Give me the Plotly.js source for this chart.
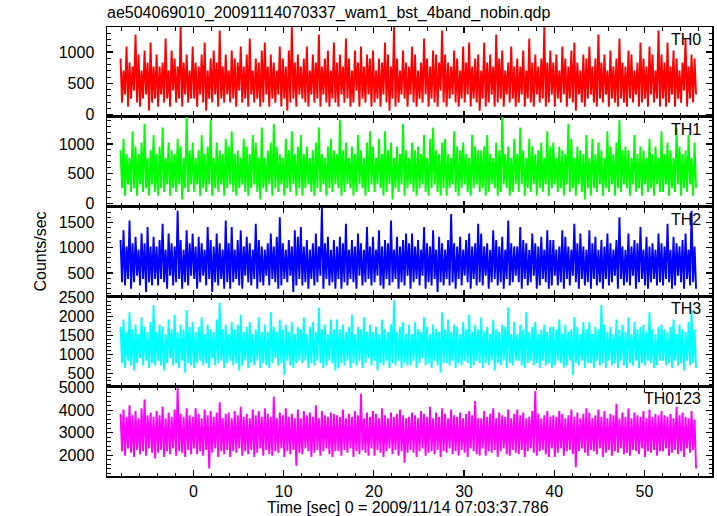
<!DOCTYPE html>
<html>
<head>
<meta charset="utf-8">
<script src="https://cdn.plot.ly/plotly-3.0.1.min.js"></script>
<style>html,body{margin:0;padding:0;background:#fff;}#chart{width:717px;height:516px;}</style>
</head>
<body>
<div id="chart"></div>
<script>
// Light curves: counts per time bin (bin width 1/64 s), sampled across the observation
const BIN_WIDTH = 1 / 64;           // seconds per bin
const T_START = -8.1;               // seconds (relative to 2009/11/14 07:03:37.786)
const T_SPAN = 64.0;                // seconds

const bandNames = ["TH0", "TH1", "TH2", "TH3", "TH0123"];
const bandColors = ["#ff0000", "#00ff00", "#0000ff", "#00ffff", "#ff00ff"];

const th0Counts = [
14,3,11,5,17,2,13,4,12,6,20,3,15,2,11,4,16,5,13,1,18,3,12,4,
15,2,12,5,13,3,19,4,11,2,16,6,14,3,12,4,22,2,13,5,15,3,11,4,
17,4,13,2,12,5,15,3,18,1,11,4,14,3,16,5,13,2,21,4,12,3,15,5,
11,3,16,4,14,2,13,6,17,3,12,4,15,2,19,5,11,3,14,4,13,2,16,3,
18,5,12,2,15,4,13,3,11,5,17,2,14,4,12,1,16,3,22,4,13,2,15,5,
12,4,14,3,17,2,11,5,15,3,13,4,20,2,12,5,14,3,16,2,11,4,18,3,
13,2,15,5,12,3,19,4,14,2,11,3,16,6,13,2,17,4,12,3,15,5,14,2,
16,3,11,4,14,2,13,5,18,3,15,1,12,4,22,2,14,3,11,5,16,4,13,2,
12,5,17,3,15,2,11,4,13,3,19,5,14,2,12,4,16,3,15,2,13,6,21,3,
15,2,13,4,12,5,16,3,14,2,11,4,17,3,13,5,18,2,12,4,14,3,15,1,
11,4,18,2,13,3,15,5,12,2,20,3,14,4,16,2,11,5,13,3,17,4,12,2,
14,3,12,5,16,2,11,4,19,3,13,2,15,5,12,3,14,4,22,2,13,3,16,5,
13,2,15,4,11,3,17,5,14,2,12,4,16,3,18,1,13,5,11,3,15,2,14,4,
17,5,12,3,14,2,20,4,13,3,15,5,11,2,16,4,12,3,14,2,19,4,13,3,
12,2,16,4,15,3,11,5,13,2,18,3,14,4,12,2,17,5,15,3,11,4,21,2,
15,4,13,2,18,3,12,5,16,2,14,4,11,3,13,6,19,2,12,4,15,3,14,5
];

const th1Counts = [
14,4,17,2,13,5,12,3,19,4,15,2,13,5,16,3,21,4,12,2,14,5,18,3,
13,2,15,4,20,3,12,5,16,2,14,4,13,3,17,5,15,1,12,4,23,3,14,5,
16,3,12,5,14,2,18,4,13,3,15,5,22,2,12,4,16,3,14,5,13,2,17,4,
15,5,19,3,13,2,14,4,12,5,17,3,15,2,13,4,18,5,16,3,12,1,20,4,
12,3,14,5,16,2,21,4,15,3,13,5,12,2,17,4,14,3,19,5,13,2,15,4,
18,2,13,4,15,5,12,3,14,2,16,4,20,3,13,5,12,2,15,4,17,3,14,5,
13,4,22,2,14,3,16,5,12,4,15,2,13,3,18,5,14,4,12,2,16,3,19,5,
15,3,12,5,17,4,13,2,19,3,14,5,16,1,12,4,15,3,13,5,21,2,14,4,
12,5,16,3,14,2,15,4,13,5,18,3,12,2,17,4,20,5,14,3,13,2,16,4,
17,2,13,4,12,5,19,3,15,2,14,4,16,5,13,3,12,2,18,4,15,5,14,3,
14,4,15,2,18,3,13,5,12,4,16,2,14,3,23,5,13,4,15,2,12,3,17,5,
13,3,20,5,14,2,12,4,17,3,15,5,13,2,14,4,16,3,12,5,19,2,15,4,
16,5,12,3,15,4,14,2,13,5,21,3,17,4,12,2,15,5,14,3,13,1,18,4,
12,2,17,4,13,3,16,5,14,2,12,4,19,3,15,5,13,2,16,4,22,3,14,5,
15,4,14,2,12,5,18,3,13,4,15,2,14,5,12,3,17,4,13,2,15,5,12,3,
19,3,13,5,16,2,14,4,12,3,20,5,15,2,13,4,14,3,18,5,12,2,16,4
];

const th2Counts = [
18,5,21,4,16,6,24,3,17,5,19,7,15,4,20,6,17,2,22,5,16,4,19,6,
16,4,18,6,23,5,15,3,20,7,17,4,16,5,27,6,18,3,15,5,21,4,17,7,
20,6,16,3,19,5,17,7,15,4,22,6,18,2,16,5,20,4,17,6,15,3,24,5,
17,3,22,5,15,6,18,4,21,3,16,7,19,5,17,4,15,6,23,3,18,5,16,4,
15,7,17,4,20,6,16,5,19,3,25,4,17,6,15,5,18,7,16,2,21,4,19,6,
22,4,16,5,18,3,15,6,17,4,20,5,16,7,28,3,17,6,19,4,15,5,18,3,
16,6,19,3,17,5,23,4,15,6,18,5,16,3,20,7,17,4,15,5,22,6,16,4,
19,5,15,7,21,4,16,3,18,6,17,4,24,5,15,6,19,3,16,5,18,4,20,7,
17,3,20,5,16,6,18,4,15,7,22,3,17,5,16,4,21,6,15,2,19,5,17,4,
15,6,18,4,26,5,17,3,16,6,19,4,15,7,18,5,20,3,16,6,17,4,23,5,
20,4,16,7,17,3,15,5,21,6,18,4,16,5,19,3,15,6,24,4,17,5,16,7,
16,5,22,3,18,6,17,4,15,5,20,7,17,3,16,4,19,6,15,5,21,3,18,4,
18,7,15,4,16,5,21,3,19,6,16,4,15,7,23,5,17,3,20,6,16,4,15,5,
21,3,17,6,19,4,15,5,18,3,16,6,20,4,17,5,15,7,18,3,25,6,16,4,
15,5,20,4,16,7,18,3,17,5,22,6,15,4,19,3,16,5,17,6,15,4,20,5,
17,4,16,6,23,5,15,3,19,4,17,7,16,5,18,3,20,6,15,4,27,5,16,3
];

const th3Counts = [
27,12,30,10,25,13,33,11,26,9,28,12,24,14,31,11,27,13,25,10,29,12,36,11,
25,13,28,11,27,9,24,12,30,14,26,11,32,12,25,10,28,13,26,8,34,12,27,11,
29,10,25,12,27,13,31,11,24,12,28,10,26,14,25,11,30,12,37,13,26,10,28,12,
24,13,29,11,26,12,28,9,32,11,25,13,27,10,29,12,24,11,26,13,31,10,25,12,
28,11,25,10,33,12,27,14,25,11,30,12,26,7,28,13,25,11,29,10,24,12,27,13,
26,12,31,13,24,10,27,12,29,11,25,13,35,12,26,10,28,11,24,13,30,12,26,9,
30,10,26,12,28,11,25,13,27,10,32,12,24,11,27,13,26,10,31,12,25,14,28,11,
25,13,27,9,24,12,30,11,26,13,25,10,28,12,38,11,25,13,27,10,29,12,24,11,
28,11,24,13,29,10,26,12,25,14,31,11,27,12,24,10,28,13,26,11,25,8,33,12,
26,12,30,11,25,13,28,10,27,12,24,11,29,13,26,12,32,10,25,11,28,13,26,12,
31,10,25,12,27,11,24,13,30,9,26,12,25,11,28,13,27,10,35,12,24,11,29,13,
24,13,28,11,26,10,33,12,25,13,27,11,29,12,24,10,26,13,28,11,25,12,27,10,
27,11,26,13,30,12,24,10,28,11,25,13,26,7,31,12,27,11,24,13,29,10,26,12,
29,12,24,10,27,13,26,11,36,12,28,10,25,13,27,11,24,12,30,10,26,13,28,11,
25,10,31,12,24,11,29,13,26,10,27,12,28,11,25,13,33,12,26,10,24,11,27,13,
28,13,26,11,25,12,27,10,30,13,24,11,28,12,26,9,25,13,29,11,34,12,26,10
];

const th0123Counts = [
60,34,63,31,58,36,66,33,59,30,62,35,57,32,64,34,70,31,59,36,61,33,58,29,
62,33,59,35,65,30,57,34,61,32,58,36,63,31,78,34,60,33,58,30,64,35,59,32,
58,36,64,32,60,34,57,31,63,35,59,22,62,33,58,36,61,30,68,34,57,32,60,35,
61,30,57,34,62,33,59,36,65,31,58,34,60,32,57,35,63,30,59,33,62,36,58,31,
64,35,60,32,58,31,72,34,57,33,61,36,59,30,64,34,58,32,60,35,57,24,63,33,
57,32,62,36,59,34,61,30,58,33,66,35,57,31,62,34,59,36,58,32,61,30,60,34,
59,34,58,31,63,35,57,33,60,36,58,30,62,34,59,32,74,35,57,33,61,31,58,36,
62,31,60,35,57,33,64,30,59,34,57,36,61,32,58,35,60,31,63,34,59,26,57,33,
58,35,61,33,59,30,57,34,62,36,60,31,58,33,65,34,57,32,61,35,58,30,64,34,
60,33,57,36,63,32,59,34,58,31,61,35,57,33,60,30,62,36,59,34,69,32,57,31,
57,36,62,31,58,34,60,33,64,35,57,30,61,34,59,36,58,32,63,31,57,35,60,33,
63,32,59,35,61,30,57,34,58,36,62,33,76,31,60,34,57,35,59,32,62,30,58,36,
59,30,58,33,62,36,60,31,57,34,59,35,63,32,58,23,61,34,57,36,60,33,64,31,
61,35,57,34,59,32,63,36,58,30,62,33,57,35,60,31,59,34,67,33,57,36,61,32,
58,33,64,31,57,35,61,34,59,32,58,36,62,30,57,34,63,33,58,35,60,31,59,34,
62,34,59,36,58,31,60,33,57,35,65,32,59,34,61,30,58,36,57,33,62,35,56,22
];

const yRanges = [[-35, 1400], [-55, 1460], [40, 1808], [158, 2534], [1077, 5073]];
const yMajor = [500, 500, 500, 500, 1000];
const yMinor = [100, 100, 100, 100, 200];

const titleText = "ae504069010_20091114070337_wam1_bst_4band_nobin.qdp";
const xTitleText = "Time [sec] 0 = 2009/11/14 07:03:37.786";
const yTitleText = "Counts/sec";

const allCounts = [th0Counts, th1Counts, th2Counts, th3Counts, th0123Counts];
const FONT = "Liberation Sans, Arial, Helvetica, sans-serif";

const traces = allCounts.map((counts, k) => {
  const step = T_SPAN / counts.length;
  return {
    type: "scatter",
    mode: "lines",
    x: counts.map((_, i) => T_START + i * step),
    y: counts.map(c => c / BIN_WIDTH),
    line: { color: bandColors[k], width: 1.9, simplify: false },
    xaxis: k === 0 ? "x" : "x" + (k + 1),
    yaxis: k === 0 ? "y" : "y" + (k + 1),
    hoverinfo: "skip",
    showlegend: false
  };
});

const layout = {
  width: 717, height: 516,
  margin: { l: 107, r: 5, t: 27, b: 40 },
  paper_bgcolor: "#ffffff", plot_bgcolor: "#ffffff",
  font: { family: FONT, size: 16, color: "#000" },
  showlegend: false,
  title: {
    text: titleText, font: { family: FONT, size: 16, color: "#000" },
    x: 0, xref: "paper", xanchor: "left", y: 1 - 12 / 516, yanchor: "middle"
  },
  annotations: []
};

const n = 5;
const plotH = 516 - 27 - 40;
for (let k = 0; k < n; k++) {
  const top = 1 - k / n, bot = 1 - (k + 1) / n;
  const xName = k === 0 ? "xaxis" : "xaxis" + (k + 1);
  const yName = k === 0 ? "yaxis" : "yaxis" + (k + 1);
  const yId = k === 0 ? "y" : "y" + (k + 1);
  const isBottom = k === n - 1;
  layout[xName] = {
    anchor: yId, range: [-9.6, 57.5], dtick: 10, tick0: 0,
    ticks: "inside", ticklen: 6, tickwidth: 1.2, tickcolor: "#000",
    minor: { dtick: 2, ticks: "inside", ticklen: 3.5, tickwidth: 1, tickcolor: "#000", showgrid: false },
    showline: true, linecolor: "#000", linewidth: 1.5, mirror: "allticks",
    showgrid: false, zeroline: false, showticklabels: isBottom,
    tickfont: { family: FONT, size: 16, color: "#000" },
    ticklabelstandoff: 0
  };
  if (k > 0) layout[xName].matches = "x";
  layout[yName] = {
    domain: [bot, top], range: yRanges[k], dtick: yMajor[k], tick0: 0,
    ticks: "inside", ticklen: 6, tickwidth: 1.2, tickcolor: "#000",
    minor: { dtick: yMinor[k], ticks: "inside", ticklen: 3.5, tickwidth: 1, tickcolor: "#000", showgrid: false },
    showline: true, linecolor: "#000", linewidth: 1.5, mirror: "allticks",
    showgrid: false, zeroline: false,
    tickfont: { family: FONT, size: 16, color: "#000" },
    ticklabelstandoff: 8
  };
  layout.annotations.push({
    text: bandNames[k], xref: "paper", yref: "paper",
    x: (703 - 107) / 605, xanchor: "right",
    y: top - 2 / plotH, yanchor: "top",
    showarrow: false, font: { family: FONT, size: 16, color: "#000" }
  });
}

layout.annotations.push({
  text: xTitleText, xref: "paper", yref: "paper",
  x: (408 - 107) / 605, xanchor: "center", y: -(507 - 476) / plotH, yanchor: "middle",
  showarrow: false, font: { family: FONT, size: 16, color: "#000" }
});

layout.annotations.push({
  text: yTitleText, xref: "paper", yref: "paper",
  x: (40 - 107) / 605, xanchor: "center", y: 0.5, yanchor: "middle",
  textangle: -90, showarrow: false, font: { family: FONT, size: 16, color: "#000" }
});

Plotly.newPlot("chart", traces, layout, { staticPlot: true, displayModeBar: false });
</script>
</body>
</html>
